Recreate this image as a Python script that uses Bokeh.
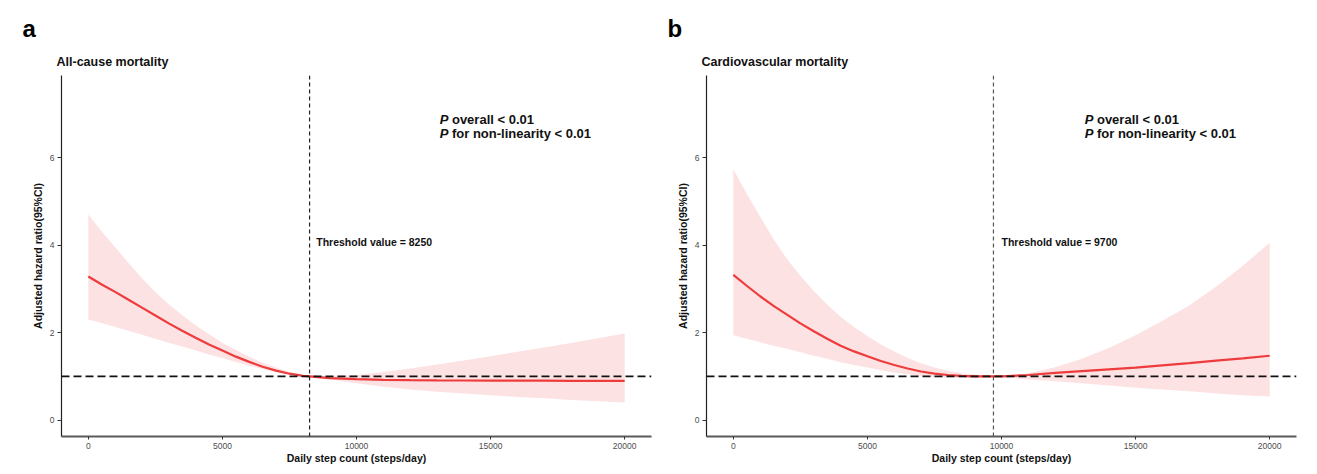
from bokeh.plotting import figure
from bokeh.models import Range1d, Span, Label, FixedTicker, NumeralTickFormatter, Title
from bokeh.layouts import row
from bokeh.embed import file_html
from bokeh.resources import INLINE

# ---------------- data ----------------
x_ticks = [0, 5000, 10000, 15000, 20000]
y_ticks = [0, 2, 4, 6]

# Panel a: all-cause mortality
steps_a = [0, 500, 1000, 1500, 2000, 2500, 3000, 3500, 4000, 4500, 5000, 5500,
           6000, 6500, 7000, 7500, 8000, 8250, 9000,
           10000, 11000, 12000, 13000, 14000, 15000, 16000, 17000, 18000, 19000, 20000]
hr_a = [3.28, 3.10, 2.93, 2.75, 2.57, 2.39, 2.21, 2.04, 1.88, 1.73, 1.59, 1.45,
        1.33, 1.22, 1.13, 1.06, 1.01, 1.00, 0.96,
        0.935, 0.92, 0.912, 0.907, 0.905, 0.903, 0.90, 0.90, 0.898, 0.896, 0.894]
lo_a = [2.30, 2.22, 2.13, 2.04, 1.95, 1.86, 1.77, 1.68, 1.59, 1.50, 1.42, 1.33,
        1.24, 1.17, 1.10, 1.04, 1.00, 1.00, 0.93,
        0.84, 0.76, 0.70, 0.65, 0.61, 0.57, 0.53, 0.50, 0.46, 0.43, 0.40]
hi_a = [4.70, 4.31, 3.95, 3.59, 3.24, 2.93, 2.65, 2.40, 2.17, 1.96, 1.77, 1.60,
        1.45, 1.31, 1.20, 1.10, 1.03, 1.00, 1.01,
        1.03, 1.10, 1.18, 1.27, 1.36, 1.46, 1.56, 1.66, 1.76, 1.87, 1.98]
threshold_a = 8250

# Panel b: cardiovascular mortality
steps_b = [0, 500, 1000, 1500, 2000, 2500, 3000, 3500, 4000, 4500, 5000, 5500,
           6000, 6500, 7000, 7500, 8000, 8500, 9000, 9700,
           10000, 11000, 12000, 13000, 14000, 15000, 16000, 17000, 18000, 19000, 20000]
hr_b = [3.32, 3.07, 2.83, 2.61, 2.41, 2.21, 2.03, 1.86, 1.70, 1.57, 1.46, 1.35,
        1.26, 1.18, 1.11, 1.06, 1.03, 1.01, 1.00, 1.00,
        1.00, 1.03, 1.08, 1.12, 1.16, 1.20, 1.25, 1.30, 1.36, 1.41, 1.47]
lo_b = [1.94, 1.86, 1.78, 1.70, 1.63, 1.55, 1.47, 1.40, 1.32, 1.26, 1.20, 1.14,
        1.09, 1.05, 1.01, 0.98, 0.97, 0.965, 0.97, 1.00,
        0.98, 0.93, 0.89, 0.84, 0.79, 0.74, 0.70, 0.66, 0.61, 0.57, 0.54]
hi_b = [5.73, 5.17, 4.65, 4.14, 3.68, 3.30, 2.95, 2.64, 2.36, 2.13, 1.92, 1.73,
        1.57, 1.42, 1.30, 1.20, 1.13, 1.07, 1.04, 1.00,
        1.01, 1.07, 1.21, 1.40, 1.65, 1.94, 2.27, 2.62, 3.05, 3.53, 4.05]
threshold_b = 9700

FONT = "Liberation Sans"


def make_panel(letter, title, steps, hr, lo, hi, threshold, thr_text_x, vcolor,
               width, border_left, border_right):
    p = figure(width=width, height=466,
               x_range=Range1d(-1000, 21000), y_range=Range1d(-0.375, 7.875),
               output_backend="svg", toolbar_location=None,
               min_border_left=border_left, min_border_right=border_right,
               min_border_top=75, min_border_bottom=28)
    p.outline_line_color = None
    p.xgrid.visible = False
    p.ygrid.visible = False
    p.background_fill_color = "white"

    # outermost title: panel letter
    p.title.text = letter
    p.title.text_font = FONT
    p.title.text_font_size = "24px"
    p.title.text_font_style = "bold"
    p.title.align = "left"
    p.title.offset = -39
    p.title.standoff = 10
    p.title.text_color = "#000000"

    # inner title: subplot title
    p.add_layout(Title(text=title, text_font=FONT, text_font_size="12.5px",
                       text_font_style="bold", align="left", offset=-5,
                       standoff=13, text_color="#111111"), "above")

    # band and line
    p.varea(x=steps, y1=lo, y2=hi, fill_color="#FDE2E4")
    p.line(steps, hr, line_color="#EE3B3B", line_width=2.2)

    p.add_layout(Span(location=1, dimension="width", line_dash="8 4",
                      line_width=1.6, line_color="#111111"))
    p.add_layout(Span(location=threshold, dimension="height", line_dash="4 3",
                      line_width=1.2, line_color=vcolor))

    # axes
    p.xaxis.ticker = FixedTicker(ticks=x_ticks)
    p.yaxis.ticker = FixedTicker(ticks=y_ticks)
    p.xaxis.formatter = NumeralTickFormatter(format="0")
    for ax in (p.xaxis, p.yaxis):
        ax.major_label_text_font = FONT
        ax.major_label_text_font_size = "8.5px"
        ax.major_label_text_color = "#4d4d4d"
        ax.minor_tick_line_color = None
        ax.major_tick_in = 0
        ax.major_tick_line_color = "#333333"
        ax.axis_label_text_font = FONT
        ax.axis_label_text_font_size = "10.5px"
        ax.axis_label_text_font_style = "bold"
        ax.axis_label_text_color = "#111111"
    p.xaxis.axis_label = "Daily step count (steps/day)"
    p.yaxis.axis_label = "Adjusted hazard ratio(95%CI)"
    p.xaxis.axis_line_color = "#5a5a5a"
    p.xaxis.axis_line_width = 2
    p.yaxis.axis_line_color = "#222222"
    p.yaxis.axis_line_width = 1.2
    p.xaxis.major_tick_out = 3
    p.xaxis.major_label_standoff = 3
    p.xaxis.axis_label_standoff = 0
    p.yaxis.major_tick_out = 4
    p.yaxis.major_label_standoff = 3
    p.yaxis.axis_label_standoff = 3

    # annotations
    p.add_layout(Label(x=13100, y=6.86, text="P", text_font=FONT,
                       text_font_size="13px", text_font_style="bold italic",
                       text_baseline="middle", text_color="#111111"))
    p.add_layout(Label(x=13100, y=6.86, x_offset=12.3, text="overall < 0.01",
                       text_font=FONT, text_font_size="13px",
                       text_font_style="bold", text_baseline="middle",
                       text_color="#111111"))
    p.add_layout(Label(x=13100, y=6.55, text="P", text_font=FONT,
                       text_font_size="13px", text_font_style="bold italic",
                       text_baseline="middle", text_color="#111111"))
    p.add_layout(Label(x=13100, y=6.55, x_offset=12.3,
                       text="for non-linearity < 0.01", text_font=FONT,
                       text_font_size="13px", text_font_style="bold",
                       text_baseline="middle", text_color="#111111"))
    p.add_layout(Label(x=thr_text_x, y=4.06,
                       text="Threshold value = %d" % threshold, text_font=FONT,
                       text_font_size="10.5px", text_font_style="bold",
                       text_baseline="middle", text_color="#111111"))
    return p


pa = make_panel("a", "All-cause mortality", steps_a, hr_a, lo_a, hi_a,
                threshold_a, 8500, "#222222", 653, 61, 2)
pb = make_panel("b", "Cardiovascular mortality", steps_b, hr_b, lo_b, hi_b,
                threshold_b, 10000, "#555555", 653, 53, 10)

layout = row(pa, pb)
open("out.html", "w").write(file_html(layout, INLINE))
